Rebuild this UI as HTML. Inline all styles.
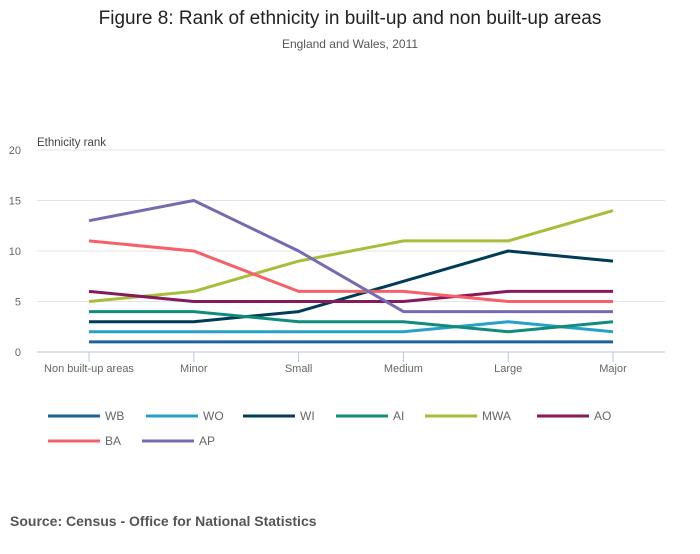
<!DOCTYPE html>
<html><head><meta charset="utf-8"><style>
body{margin:0;background:#fff;font-family:"Liberation Sans",sans-serif;}
svg text{font-family:"Liberation Sans",sans-serif;}
</style></head><body>
<svg width="700" height="549">
<text x="350" y="24" text-anchor="middle" font-size="19" fill="#222">Figure 8: Rank of ethnicity in built-up and non built-up areas</text>
<text x="350" y="48" text-anchor="middle" font-size="12" fill="#555">England and Wales, 2011</text>
<text x="37" y="146" font-size="11.5" fill="#444">Ethnicity rank</text>
<g id="grid"></g><g id="series"></g><g id="legend"></g>
<text x="10" y="526" font-size="14" font-weight="bold" fill="#555">Source: Census - Office for National Statistics</text>
</svg>
<script>
const categories=["Non built-up areas","Minor","Small","Medium","Large","Major"];
const yTicks=[0,5,10,15,20];
const seriesNames=["WB","WO","WI","AI","MWA","AO","BA","AP"];
const WB=[1,1,1,1,1,1];
const WO=[2,2,2,2,3,2];
const WI=[3,3,4,7,10,9];
const AI=[4,4,3,3,2,3];
const MWA=[5,6,9,11,11,14];
const AO=[6,5,5,5,6,6];
const BA=[11,10,6,6,5,5];
const AP=[13,15,10,4,4,4];
const values=[WB,WO,WI,AI,MWA,AO,BA,AP];
const colors=["#206095","#27a0cc","#003c57","#118c7b","#a8bd3a","#871a5b","#f66068","#746cb1"];
const NS="http://www.w3.org/2000/svg";
const x=i=>89+i*(613-89)/(categories.length-1);
const y=v=>352-v*(352-150)/20;
function mk(t,a,p){const e=document.createElementNS(NS,t);for(const k in a)e.setAttribute(k,a[k]);p.appendChild(e);return e;}
const g=document.getElementById('grid');
yTicks.forEach(t=>{
 if(t>0){const l=mk('line',{x1:37,x2:665,y1:y(t),y2:y(t),stroke:'#e4e4e4'},g);}
 const tx=mk('text',{x:21,y:y(t)+4,'text-anchor':'end','font-size':11,fill:'#666'},g);tx.textContent=t;
 
 
});
const ax=mk('line',{x1:37,x2:665,y1:352,y2:352,stroke:'#b8c7dd'},g);


categories.forEach((c,i)=>{
 const tk=mk('line',{x1:x(i),x2:x(i),y1:352,y2:362,stroke:'#b8c7dd'},g);
 
 
 const t=mk('text',{x:x(i),y:372,'text-anchor':'middle','font-size':11,fill:'#666'},g);t.textContent=c;
 
 
});
const s=document.getElementById('series');
values.forEach((vals,k)=>{
 const p=mk('polyline',{points:vals.map((v,i)=>x(i)+','+y(v)).join(' '),fill:'none',stroke:colors[k],'stroke-width':3,'stroke-linejoin':'round'},s);
 
 
});
const L=document.getElementById('legend');
const lx=[48,146,243,336,425,537,48,142],ly=[416,416,416,416,416,416,441,441];
seriesNames.forEach((n,k)=>{
 const gg=mk('g',{},L);
 
 
 mk('line',{x1:lx[k],x2:lx[k]+52,y1:ly[k],y2:ly[k],stroke:colors[k],'stroke-width':3},gg);
 const t=mk('text',{x:lx[k]+57,y:ly[k]+4,'font-size':12,fill:'#666'},gg);t.textContent=n;
});
</script>
</body></html>
